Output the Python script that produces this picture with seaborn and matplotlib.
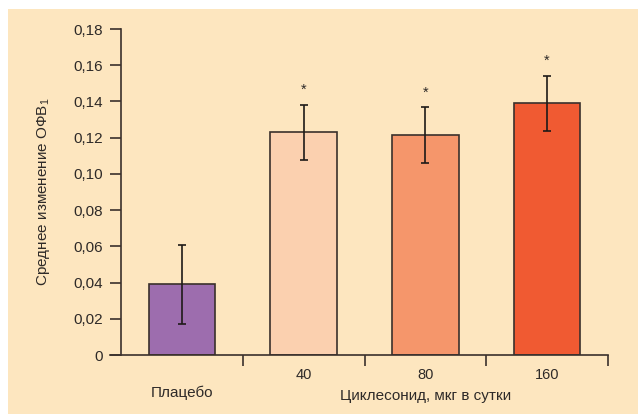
import matplotlib
matplotlib.use("Agg")
import matplotlib.pyplot as plt
import seaborn as sns
import pandas as pd
from matplotlib.patches import Rectangle

categories = ["Плацебо", "40", "80", "160"]
means = [0.039, 0.123, 0.1215, 0.139]
errors = [0.022, 0.0153, 0.0155, 0.0153]
significant = [False, True, True, True]
yticks = [0, 0.02, 0.04, 0.06, 0.08, 0.10, 0.12, 0.14, 0.16, 0.18]
ytick_labels = ["0", "0,02", "0,04", "0,06", "0,08", "0,10", "0,12", "0,14", "0,16", "0,18"]
colors = ["#9D6DAE", "#FBD0AF", "#F5966B", "#F05A32"]
xlabel = "Циклесонид, мкг в сутки"
ylabel = "Среднее изменение ОФВ$_1$"

sns.set_theme(style="white")
plt.rcParams["font.family"] = ["Liberation Sans", "DejaVu Sans"]
plt.rcParams["mathtext.default"] = "regular"
txt = "#2e2a28"
edge = "#3a302c"
bg = "#FDE6BF"

fig = plt.figure(figsize=(6.38, 4.15), dpi=100, facecolor="white")
fig.patches.append(Rectangle((8 / 638, 1 / 415), 630 / 638, 405 / 415,
                             transform=fig.transFigure, facecolor=bg,
                             edgecolor="none", zorder=-10))
ax = fig.add_axes([121 / 638, 1 - 355 / 415, 487 / 638, 326 / 415])
ax.set_facecolor("none")

df = pd.DataFrame({"cat": categories, "val": means})
sns.barplot(data=df, x="cat", y="val", hue="cat", palette=colors,
            legend=False, width=0.545, edgecolor=edge, linewidth=1.2,
            errorbar=None, ax=ax, saturation=1)
ax.errorbar(range(len(categories)), means, yerr=errors, fmt="none",
            ecolor="#1e1a18", elinewidth=1.2, capsize=2.6, capthick=1.2, zorder=5)
for i, (m, e, s) in enumerate(zip(means, errors, significant)):
    if s:
        ax.text(i, m + e + 0.008, "*", ha="center", va="center",
                fontsize=10.5, color=txt)

ax.set_xlim(-0.5, 3.5)
ax.set_ylim(0, 0.18)
ax.set_yticks(yticks)
ax.set_yticklabels(ytick_labels, fontsize=11, color=txt)

ax.set_xticks([0, 1, 2, 3])
ax.set_xticklabels(["", "40", "80", "160"], fontsize=10.5, color=txt)
ax.set_xticks([0.5, 1.5, 2.5, 3.5], minor=True)
ax.tick_params(axis="x", which="major", length=0, pad=9)
ax.tick_params(axis="x", which="minor", direction="out", length=8,
               width=1.2, color=edge, bottom=True)
ax.tick_params(axis="y", direction="out", length=8, width=1.2,
               color=edge, pad=5, left=True)

ax.text(0, -0.021, categories[0], ha="center", va="center",
        fontsize=11, color=txt, clip_on=False)
ax.text(2, -0.0225, xlabel, ha="center", va="center",
        fontsize=11, color=txt, clip_on=False)
ax.set_xlabel("")
ax.set_ylabel(ylabel, fontsize=11, color=txt, labelpad=15)

for sp in ["top", "right"]:
    ax.spines[sp].set_visible(False)
for sp in ["left", "bottom"]:
    ax.spines[sp].set_color(edge)
    ax.spines[sp].set_linewidth(1.2)
ax.spines["bottom"].set_bounds(-0.59, 3.5)

fig.savefig("out.png", dpi=100, facecolor="white")
